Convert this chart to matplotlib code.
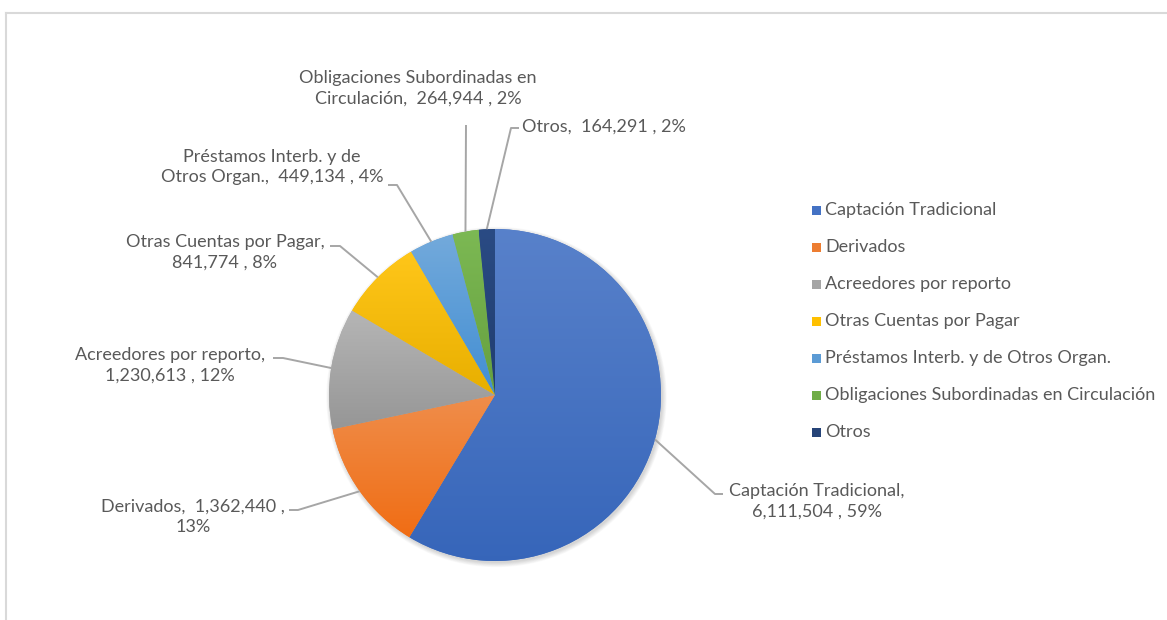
#! /usr/bin/env python
#
#   pasivos: pie de composicion con etiquetas y lineas guia
#
import colorsys
import numpy as np
import matplotlib
matplotlib.use('agg')
import matplotlib.pyplot as plt
from matplotlib.colors import to_rgb, LinearSegmentedColormap
from matplotlib.patches import Circle, Rectangle

categorias = ["Captación Tradicional", "Derivados", "Acreedores por reporto",
              "Otras Cuentas por Pagar", "Préstamos Interb. y de Otros Organ.",
              "Obligaciones Subordinadas en Circulación", "Otros"]
montos = [6111504, 1362440, 1230613, 841774, 449134, 264944, 164291]
porcentajes = [59, 13, 12, 8, 4, 2, 2]
etiquetas = ["Captación Tradicional,\n{v} , {p}%",
             "Derivados,  {v} ,\n{p}%",
             "Acreedores por reporto,\n{v} , {p}%",
             "Otras Cuentas por Pagar,\n{v} , {p}%",
             "Préstamos Interb. y de\nOtros Organ.,  {v} , {p}%",
             "Obligaciones Subordinadas en\nCirculación,  {v} , {p}%",
             "Otros,  {v} , {p}%"]

colores = ["#4472C4", "#ED7D31", "#A5A5A5", "#FFC000", "#5B9BD5", "#70AD47", "#264478"]

W, H = 1167, 620
cx, cy, r = 495, H - 395, 166
gris_txt = "#595959"
gris_lin = "#A6A6A6"

# layout en pixeles (x, y desde arriba)
pos_txt = [(817, 501, 'center'), (193, 517, 'center'), (170, 365, 'center'),
           (225, 252, 'center'), (272, 167, 'center'), (418, 88, 'center'),
           (522, 127, 'left')]
codo = [(715, 494), (298, 510), (283, 358), (340, 246), (397, 185), (466, 125), (511, 128)]
fin = [(723, 494), (289, 510), (273, 358), (330, 246), (388, 185), (466, 125), (519, 128)]

plt.rcParams['font.family'] = ['Lato', 'DejaVu Sans']
fs = 13


def tono(c, fl, fs_=1.0):
    h, l, s = colorsys.rgb_to_hls(*to_rgb(c))
    return colorsys.hls_to_rgb(h, min(l * fl, 0.97), min(s * fs_, 1.0))


fig = plt.figure(figsize=(W / 100, H / 100), dpi=100)
ax = fig.add_axes([0, 0, 1, 1])

# sombra suave
for k in range(7):
    ax.add_patch(Circle((cx + 1.5, cy - 2), r + 0.7 * k, color='black',
                        alpha=0.025, lw=0, zorder=0))

wedges, _ = ax.pie(montos, colors=colores, startangle=90, counterclock=False,
                   center=(cx, cy), radius=r, wedgeprops=dict(linewidth=0),
                   frame=True)

# degradado vertical en cada rebanada
grad = np.linspace(0, 1, 256).reshape(-1, 1)
for w, c in zip(wedges, colores):
    cmap = LinearSegmentedColormap.from_list('g', [tono(c, 0.91, 1.05), tono(c, 1.1)])
    bb = w.get_path().get_extents()
    im = ax.imshow(grad, cmap=cmap, origin='lower', aspect='auto',
                   extent=(bb.x0, bb.x1, bb.y0, bb.y1), zorder=2)
    im.set_clip_path(w)

for i, w in enumerate(wedges):
    th = np.deg2rad((w.theta1 + w.theta2) / 2)
    x0, y0 = cx + r * np.cos(th), cy + r * np.sin(th)
    xs = [x0, codo[i][0], fin[i][0]]
    ys = [y0, H - codo[i][1], H - fin[i][1]]
    ax.plot(xs, ys, color=gris_lin, lw=1.4, zorder=3, solid_capstyle='butt')
    tx, ty, ha = pos_txt[i]
    txt = etiquetas[i].format(v=f"{montos[i]:,}", p=porcentajes[i])
    ax.text(tx, H - ty, txt, ha=ha, va='center', multialignment='center',
            fontsize=fs, color=gris_txt, linespacing=1.35, zorder=4)

# leyenda
for i, cat in enumerate(categorias):
    y = H - (210 + 37 * i)
    ax.add_patch(Rectangle((812, y - 4.5), 9, 9, facecolor=colores[i], lw=0))
    ax.text(825, y, cat, ha='left', va='center', fontsize=fs, color=gris_txt)

ax.set_xlim(0, W)
ax.set_ylim(0, H)
ax.set_aspect('equal')
ax.axis('off')

# borde del area del grafico
fig.add_artist(plt.Line2D([6 / W, 1], [1 - 13 / H] * 2, transform=fig.transFigure,
                          color='#D9D9D9', lw=1.5))
fig.add_artist(plt.Line2D([6 / W] * 2, [0, 1 - 13 / H], transform=fig.transFigure,
                          color='#D9D9D9', lw=1.5))

fig.savefig("out.png", dpi=100, facecolor='white')
print("Wrote out.png")
